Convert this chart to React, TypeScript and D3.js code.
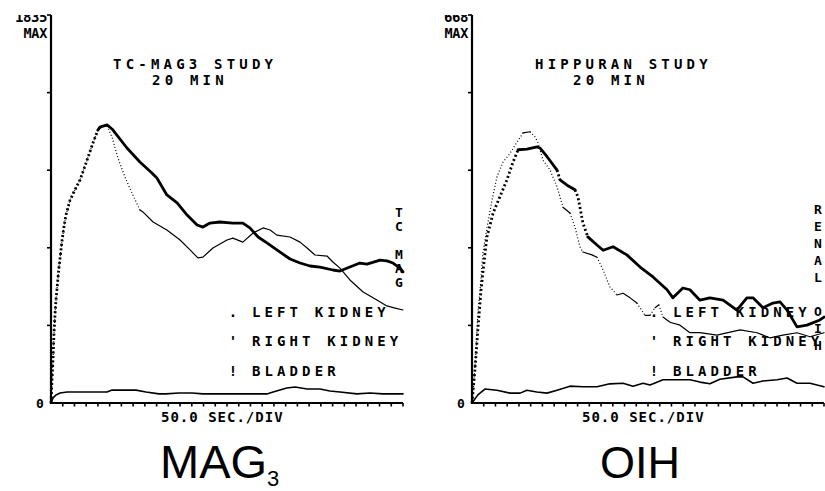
import React from 'react';
import * as d3 from 'd3';

// ---------- DATA (time in seconds, counts) ----------
const TIME_MAX = 1200;
const MAG3_MAX = 1835;
const OIH_MAX = 668;
const X_TICK_STEP = 40;
const Y_TICK_FRACTIONS = [0.2, 0.4, 0.6, 0.8, 1.0];

const mag3Left: [number, number][] = [
  [0, 0], [3, 99], [7, 213], [10, 322], [14, 426], [17, 487], [20, 534], [27, 638], [34, 724], [37, 761],
  [44, 832], [51, 889], [65, 960], [78, 998], [99, 1055], [123, 1149], [143, 1230], [160, 1291], [177, 1310],
  [191, 1310], [208, 1258], [228, 1159], [252, 1069], [276, 993], [303, 913], [314, 903], [348, 856],
  [395, 818], [440, 771], [474, 724], [501, 686], [518, 690], [552, 733], [600, 771], [620, 780], [654, 761],
  [689, 804], [723, 828], [747, 818], [770, 794], [815, 785], [849, 761], [873, 733], [900, 700], [941, 695],
  [961, 667], [985, 638], [1019, 582], [1064, 525], [1111, 487], [1145, 459], [1173, 449], [1200, 440],
];
const mag3Right: [number, number][] = [
  [0, 0], [3, 99], [7, 213], [10, 322], [14, 426], [17, 487], [20, 534], [27, 638], [34, 724], [37, 761],
  [44, 832], [51, 889], [65, 960], [78, 998], [99, 1055], [123, 1149], [143, 1230], [160, 1291], [167, 1305],
  [191, 1315], [208, 1296], [259, 1206], [303, 1140], [344, 1088], [361, 1064], [395, 984], [430, 946],
  [464, 889], [498, 842], [518, 832], [542, 851], [576, 856], [620, 851], [654, 851], [678, 828], [706, 785],
  [736, 757], [770, 724], [815, 681], [849, 662], [883, 648], [917, 643], [961, 629], [985, 624], [1019, 643],
  [1053, 662], [1077, 657], [1122, 676], [1145, 672], [1166, 662], [1190, 638], [1200, 620],
];
const mag3Bladder: [number, number][] = [
  [0, 0], [7, 24], [17, 38], [31, 47], [55, 52], [191, 52], [208, 61], [290, 61], [324, 52], [368, 43],
  [392, 43], [436, 47], [481, 47], [518, 43], [600, 43], [736, 43], [757, 52], [804, 71], [832, 76], [873, 66],
  [917, 66], [951, 57], [985, 52], [1043, 43], [1087, 47], [1131, 43], [1200, 43],
];

const oihLeft: [number, number][] = [
  [0, 0], [7, 40], [14, 91], [17, 126], [20, 155], [27, 191], [37, 258], [51, 301], [68, 349], [85, 389],
  [106, 415], [130, 430], [153, 449], [174, 465], [198, 467], [215, 458], [225, 448], [242, 418], [266, 401],
  [290, 372], [310, 337], [334, 327], [351, 303], [368, 269], [378, 260], [409, 255], [426, 251], [447, 229],
  [470, 200], [494, 186], [515, 189], [539, 181], [562, 172], [590, 151], [607, 151], [624, 164], [637, 169],
  [651, 148], [675, 139], [709, 134], [743, 121], [777, 121], [835, 117], [880, 122], [914, 126], [972, 121],
  [1016, 112], [1060, 117], [1108, 121], [1152, 114], [1200, 121],
];
const oihRight: [number, number][] = [
  [0, 0], [10, 57], [20, 126], [31, 195], [41, 243], [51, 286], [72, 327], [95, 355], [119, 384], [140, 415],
  [157, 436], [187, 437], [222, 441], [232, 439], [256, 424], [290, 401], [300, 384], [324, 375], [351, 367],
  [361, 355], [368, 337], [378, 310], [395, 286], [426, 272], [447, 263], [481, 269], [528, 255], [573, 234],
  [617, 217], [665, 195], [685, 181], [719, 198], [743, 195], [777, 177], [811, 181], [856, 177], [903, 160],
  [937, 181], [958, 181], [992, 164], [1026, 172], [1050, 174], [1074, 160], [1108, 131], [1142, 134],
  [1186, 143], [1200, 148],
];
const oihBladder: [number, number][] = [
  [0, 0], [20, 14], [44, 24], [85, 22], [130, 17], [164, 17], [187, 22], [221, 19], [256, 17], [290, 22],
  [334, 29], [378, 28], [426, 28], [470, 33], [515, 34], [549, 29], [583, 34], [607, 31], [651, 40], [685, 40],
  [743, 40], [777, 36], [811, 33], [845, 41], [903, 45], [924, 45], [958, 34], [992, 38], [1040, 40],
  [1074, 43], [1108, 34], [1152, 34], [1200, 28],
];

const legendLabels = ['LEFT KIDNEY', 'RIGHT KIDNEY', 'BLADDER'];
const legendMarks = ['.', "'", '!'];

// ---------- LAYOUT ----------
const MONO = "'DejaVu Sans Mono', monospace";
const SANS = "'Liberation Sans', Arial, sans-serif";
const Y_TOP = 15;
const Y_BASE = 403;

type Series = { pts: [number, number][]; width: number; thr: number; dash: string };

type PanelDef = {
  x0: number;
  x1: number;
  max: number;
  maxLabel: string;
  titleLines: { text: string; x: number }[];
  sideText: string;
  sideX: number;
  sideY: number;
  sideSpacing: number;
  series: Series[];
  bigLabel: React.ReactNode;
};

function segmentPaths(s: Series, xs: d3.ScaleLinear<number, number>, ys: d3.ScaleLinear<number, number>) {
  const px = s.pts.map(([t, v]) => [xs(t), ys(v)] as [number, number]);
  const runs: { steep: boolean; pts: [number, number][] }[] = [];
  for (let i = 0; i < px.length - 1; i++) {
    const a = px[i], b = px[i + 1];
    const steep = Math.abs(b[1] - a[1]) > s.thr * Math.abs(b[0] - a[0]);
    const last = runs[runs.length - 1];
    if (last && last.steep === steep) last.pts.push(b);
    else runs.push({ steep, pts: [a, b] });
  }
  const line = d3.line<[number, number]>().x(d => d[0]).y(d => d[1]).curve(d3.curveLinear);
  return runs.map((r, i) => (
    <path key={i} d={line(r.pts) || ''} fill="none" stroke="#000" strokeWidth={s.width}
      strokeLinejoin="round" strokeLinecap={r.steep ? 'butt' : 'round'}
      strokeDasharray={r.steep ? s.dash : undefined} />
  ));
}

function Panel({ p, idx }: { p: PanelDef; idx: number }) {
  const xs = d3.scaleLinear().domain([0, TIME_MAX]).range([p.x0, p.x1]);
  const ys = d3.scaleLinear().domain([0, p.max]).range([Y_BASE, Y_TOP]);
  const xTicks = d3.range(X_TICK_STEP, TIME_MAX + 1, X_TICK_STEP);
  const legendX = p.x0 + 201;
  const legendBase = [317, 346, 376];
  return (
    <g>
      <defs>
        <clipPath id={`topclip${idx}`}>
          <rect x={0} y={15} width={825} height={40} />
        </clipPath>
        <clipPath id={`plotclip${idx}`}>
          <rect x={p.x0 - 5} y={0} width={p.x1 - p.x0 + 10} height={491} />
        </clipPath>
      </defs>
      {/* axes */}
      <line x1={p.x0} x2={p.x0} y1={Y_TOP} y2={Y_BASE + 1} stroke="#000" strokeWidth={2.2} />
      <line x1={p.x0} x2={p.x1} y1={Y_BASE} y2={Y_BASE} stroke="#000" strokeWidth={2.2} />
      {Y_TICK_FRACTIONS.map(f => (
        <line key={f} x1={p.x0 - 4} x2={p.x0} y1={ys(f * p.max)} y2={ys(f * p.max)} stroke="#000" strokeWidth={1.6} />
      ))}
      {xTicks.map(t => (
        <line key={t} x1={xs(t)} x2={xs(t)} y1={Y_BASE} y2={Y_BASE + 3.5} stroke="#000" strokeWidth={1.6} />
      ))}
      {/* max labels */}
      <text x={p.x0 - 4} y={22} textAnchor="end" fontFamily={MONO} fontWeight="bold" fontSize={14}
        letterSpacing={-0.4} clipPath={`url(#topclip${idx})`}>{p.maxLabel}</text>
      <text x={p.x0 - 4} y={38} textAnchor="end" fontFamily={MONO} fontWeight="bold" fontSize={13.5}
        letterSpacing={-0.3}>MAX</text>
      <text x={p.x0 - 11} y={408} textAnchor="middle" fontFamily={MONO} fontWeight="bold" fontSize={13}>0</text>
      {/* titles */}
      {p.titleLines.map((l, i) => (
        <text key={i} x={l.x} y={69 + i * 16} fontFamily={MONO} fontWeight="bold" fontSize={14}
          letterSpacing={4.2}>{l.text}</text>
      ))}
      {/* legend */}
      {legendLabels.map((lab, i) => (
        <g key={lab}>
          <text x={legendX - 19} y={legendBase[i]} textAnchor="middle" fontFamily={MONO} fontWeight="bold"
            fontSize={14}>{legendMarks[i]}</text>
          <text x={legendX} y={legendBase[i]} fontFamily={MONO} fontWeight="bold" fontSize={14}
            letterSpacing={4.1}>{lab}</text>
        </g>
      ))}
      {/* vertical side label */}
      <text x={p.sideX} y={p.sideY} fontFamily={MONO} fontWeight="bold" fontSize={13}
        letterSpacing={p.sideSpacing}
        style={{ writingMode: 'vertical-rl', textOrientation: 'upright' } as React.CSSProperties}>{p.sideText}</text>
      {/* curves */}
      <g clipPath={`url(#plotclip${idx})`}>
        {p.series.map((s, i) => <g key={i}>{segmentPaths(s, xs, ys)}</g>)}
      </g>
      {/* x label */}
      <text x={p.x0 + 110} y={422} fontFamily={MONO} fontWeight="bold" fontSize={14}
        letterSpacing={1.0}>50.0 SEC./DIV</text>
      {p.bigLabel}
    </g>
  );
}

const panels: PanelDef[] = [
  {
    x0: 51, x1: 403, max: MAG3_MAX, maxLabel: String(MAG3_MAX),
    titleLines: [{ text: 'TC-MAG3 STUDY', x: 113 }, { text: '20 MIN', x: 152 }],
    sideText: 'TC  MAG', sideX: 399, sideY: 205, sideSpacing: -1,
    series: [
      { pts: mag3Bladder, width: 1.6, thr: 3, dash: '1 2' },
      { pts: mag3Left, width: 1.2, thr: 1.8, dash: '1 2.2' },
      { pts: mag3Right, width: 2.8, thr: 1.8, dash: '2 2.5' },
    ],
    bigLabel: (
      <text x={160} y={478} fontFamily={SANS} fontSize={47}>MAG<tspan fontSize={22} dy={8}>3</tspan></text>
    ),
  },
  {
    x0: 472, x1: 824, max: OIH_MAX, maxLabel: String(OIH_MAX),
    titleLines: [{ text: 'HIPPURAN STUDY', x: 535 }, { text: '20 MIN', x: 573 }],
    sideText: 'RENAL OIH', sideX: 818, sideY: 202, sideSpacing: 2,
    series: [
      { pts: oihBladder, width: 1.6, thr: 3, dash: '1 2' },
      { pts: oihLeft, width: 1.2, thr: 1.0, dash: '1 2.2' },
      { pts: oihRight, width: 2.8, thr: 1.8, dash: '2 2.5' },
    ],
    bigLabel: <text x={600} y={478} fontFamily={SANS} fontSize={45}>OIH</text>,
  },
];

export default function App() {
  return (
    <svg width={825} height={491} viewBox="0 0 825 491"
      style={{ position: 'absolute', left: 0, top: 0, background: '#fff' }}>
      <rect width={825} height={491} fill="#fff" />
      {panels.map((p, i) => <Panel key={i} p={p} idx={i} />)}
    </svg>
  );
}
